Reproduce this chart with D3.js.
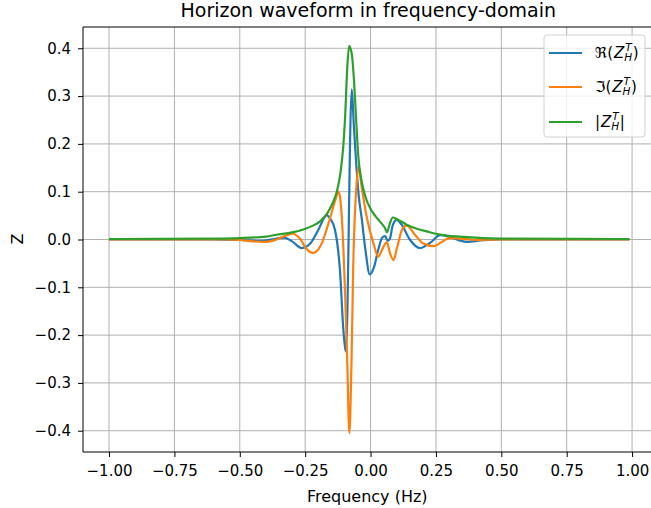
<!DOCTYPE html>
<html>
<head>
<meta charset="utf-8">
<script src="https://cdn.jsdelivr.net/npm/d3@7"></script>
<style>
  body { margin: 0; background: #fff; }
  text { font-family: "DejaVu Sans", sans-serif; fill: #000; }
</style>
</head>
<body>
<div id="chart"></div>
<script>
// values: frequency (Hz) and Z
const reFreq = [-1.0, -0.6, -0.5, -0.42, -0.36, -0.33, -0.30, -0.263, -0.23, -0.20, -0.167, -0.155, -0.136, -0.129, -0.117, -0.104, -0.097, -0.094,
  -0.072, -0.064, -0.055, -0.045, -0.034, -0.02, -0.003, 0.012, 0.03, 0.045, 0.056, 0.066, 0.074, 0.085, 0.100, 0.12, 0.15, 0.19, 0.23, 0.266, 0.30, 0.34, 0.37, 0.42, 0.5, 0.99];
const reVals = [0, 0, -0.001, -0.003, 0.002, 0.004, -0.004, -0.018, -0.008, 0.02, 0.051, 0.044, 0.02, -0.001, -0.064, -0.189, -0.227, -0.234,
  0.314, 0.24, 0.16, 0.09, 0.045, -0.02, -0.073, -0.06, -0.02, 0.004, 0.007, -0.003, 0.002, 0.03, 0.041, 0.03, 0.0, -0.018, -0.006, 0.009, 0.006, -0.002, -0.005, -0.002, 0, 0];

const imFreq = [-1.0, -0.55, -0.5, -0.45, -0.40, -0.36, -0.32, -0.30, -0.27, -0.245, -0.219, -0.19, -0.16, -0.136, -0.123, -0.116, -0.110, -0.097, -0.089, -0.081,
  -0.073, -0.066, -0.055, -0.046, -0.034, -0.015, 0.011, 0.030, 0.045, 0.062, 0.075, 0.088, 0.10, 0.12, 0.138, 0.17, 0.20, 0.24, 0.27, 0.30, 0.34, 0.4, 0.5, 0.99];
const imVals = [0, 0, -0.001, -0.004, -0.005, 0.0, 0.009, 0.012, 0.002, -0.02, -0.028, -0.012, 0.035, 0.08, 0.100, 0.085, 0.048, -0.119, -0.258, -0.405,
  -0.26, -0.049, 0.103, 0.152, 0.110, 0.048, -0.008, -0.036, -0.02, -0.006, -0.03, -0.043, -0.02, 0.02, 0.029, 0.01, -0.008, -0.014, -0.006, 0.003, 0.002, -0.001, 0, 0];

const absFreq = [-1.0, -0.6, -0.5, -0.4, -0.36, -0.3, -0.257, -0.22, -0.193, -0.165, -0.142, -0.129, -0.115, -0.105, -0.097, -0.089, -0.082, -0.077, -0.071,
  -0.063, -0.055, -0.047, -0.035, -0.02, 0.0, 0.02, 0.04, 0.055, 0.063, 0.072, 0.085, 0.1, 0.138, 0.18, 0.215, 0.25, 0.291, 0.34, 0.4, 0.5, 0.99];
const absVals = [0.001, 0.002, 0.003, 0.006, 0.010, 0.015, 0.021, 0.029, 0.038, 0.055, 0.080, 0.100, 0.14, 0.19, 0.26, 0.36, 0.405, 0.40, 0.385,
  0.33, 0.25, 0.175, 0.125, 0.09, 0.064, 0.048, 0.035, 0.024, 0.015, 0.03, 0.046, 0.043, 0.031, 0.022, 0.017, 0.012, 0.008, 0.006, 0.004, 0.002, 0.001];

const xTicks = [-1.0, -0.75, -0.5, -0.25, 0, 0.25, 0.5, 0.75, 1.0];
const yTicks = [-0.4, -0.3, -0.2, -0.1, 0, 0.1, 0.2, 0.3, 0.4];

const width = 651, height = 508;
const mLeft = 83, mTop = 27, mRight = 655.5, mBottom = 452;

const svg = d3.select("#chart").append("svg")
  .attr("width", width)
  .attr("height", height);

const x = d3.scaleLinear().domain([-1.0995, 1.0895]).range([mLeft, mRight]);
const y = d3.scaleLinear().domain([-0.4445, 0.4445]).range([mBottom, mTop]);

// grid
svg.append("g").selectAll("line").data(xTicks).enter().append("line")
  .attr("x1", d => x(d)).attr("x2", d => x(d))
  .attr("y1", mTop).attr("y2", mBottom)
  .attr("stroke", "#b0b0b0").attr("stroke-width", 1);
svg.append("g").selectAll("line").data(yTicks).enter().append("line")
  .attr("x1", mLeft).attr("x2", mRight)
  .attr("y1", d => y(d)).attr("y2", d => y(d))
  .attr("stroke", "#b0b0b0").attr("stroke-width", 1);

// series
const series = [
  { f: reFreq, v: reVals, color: "#1f77b4", pre: "\u211C(", post: ")" },
  { f: imFreq, v: imVals, color: "#ff7f0e", pre: "\u2111(", post: ")" },
  { f: absFreq, v: absVals, color: "#2ca02c", pre: "|", post: "|" }
];

const line = d3.line()
  .x(d => x(d[0]))
  .y(d => y(d[1]))
  .curve(d3.curveMonotoneX);

series.forEach(s => {
  svg.append("path")
    .datum(s.f.map((f, i) => [f, s.v[i]]))
    .attr("fill", "none")
    .attr("stroke", s.color)
    .attr("stroke-width", 2.2)
    .attr("stroke-linejoin", "round")
    .attr("d", line);
});

// axes
const xAxis = svg.append("g")
  .attr("transform", `translate(0,${mBottom})`)
  .call(d3.axisBottom(x).tickValues(xTicks).tickSize(5).tickPadding(8)
    .tickFormat(d => d3.format(".2f")(d).replace("-", "\u2212")));
const yAxis = svg.append("g")
  .attr("transform", `translate(${mLeft},0)`)
  .call(d3.axisLeft(y).tickValues(yTicks).tickSize(5).tickPadding(7)
    .tickFormat(d => d3.format(".1f")(d).replace("-", "\u2212")));

[xAxis, yAxis].forEach(a => {
  a.select(".domain").remove();
  a.selectAll("text").style("font-family", "DejaVu Sans").style("font-size", "15px").attr("fill", "#000");
  a.selectAll("line").attr("stroke", "#000");
});

// spines
svg.append("line").attr("x1", mLeft).attr("x2", mRight).attr("y1", mTop).attr("y2", mTop).attr("stroke", "#000");
svg.append("line").attr("x1", mLeft).attr("x2", mRight).attr("y1", mBottom).attr("y2", mBottom).attr("stroke", "#000");
svg.append("line").attr("x1", mLeft).attr("x2", mLeft).attr("y1", mTop).attr("y2", mBottom).attr("stroke", "#000");

// labels
svg.append("text")
  .attr("x", (mLeft + mRight) / 2 - 1).attr("y", 17)
  .attr("text-anchor", "middle")
  .style("font-size", "19px")
  .text("Horizon waveform in frequency-domain");
svg.append("text")
  .attr("x", (mLeft + mRight) / 2 - 2).attr("y", 502)
  .attr("text-anchor", "middle")
  .style("font-size", "16px")
  .text("Frequency (Hz)");
svg.append("text")
  .attr("transform", "translate(23,239) rotate(-90)")
  .attr("text-anchor", "middle")
  .style("font-size", "16px")
  .text("Z");

// legend
const legend = svg.append("g");
legend.append("rect")
  .attr("x", 544).attr("y", 35).attr("width", 101).attr("height", 102)
  .attr("rx", 3)
  .attr("fill", "#fff").attr("fill-opacity", 0.8)
  .attr("stroke", "#d0d0d0");

const rowY = [53, 87, 122];
series.forEach((s, i) => {
  const yy = rowY[i];
  legend.append("line")
    .attr("x1", 549).attr("x2", 582).attr("y1", yy).attr("y2", yy)
    .attr("stroke", s.color).attr("stroke-width", 2.2);
  const t = legend.append("text")
    .attr("x", 595).attr("y", yy + 5)
    .style("font-size", "15px");
  t.append("tspan").text(s.pre);
  t.append("tspan").attr("dx", 1).style("font-style", "italic").text("Z");
  t.append("tspan").attr("dx", 1).attr("dy", -7)
    .style("font-style", "italic").style("font-size", "10.5px").text("T");
  t.append("tspan").attr("dx", -7.4).attr("dy", 10)
    .style("font-style", "italic").style("font-size", "10.5px").text("H");
  t.append("tspan").attr("dx", 0.5).attr("dy", -3).text(s.post);
});
</script>
</body>
</html>
